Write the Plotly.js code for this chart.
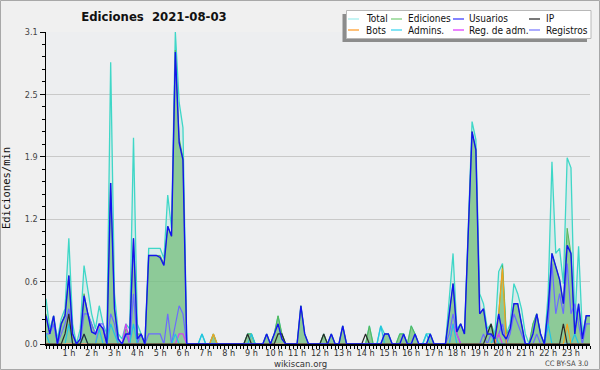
<!DOCTYPE html>
<html><head><meta charset="utf-8">
<script src="https://cdn.plot.ly/plotly-3.0.1.min.js"></script>
<style>html,body{margin:0;padding:0;background:#f0f0f0}#chart{width:600px;height:370px}</style>
</head><body><div id="chart"></div>
<script>
// values every 10 minutes (6 per hour, 144 points), edits per minute
const total = [
 .45,.15,.28,.05,.25,.35,
 1.05,.2,0,.15,.78,.55,
 .3,.15,.38,.2,.1,2.8,
 .5,.1,.05,.2,.15,2.05,
 .2,.1,0,.95,.95,.95,
 .95,.85,1.48,1.15,3.1,2.4,
 2.15,0,0,0,0,.1,
 0,0,.1,0,0,0,
 0,0,0,0,0,.1,
 .1,0,0,0,.1,0,
 .1,.28,.1,0,0,0,
 0,.38,.1,0,0,0,
 0,.1,0,.1,0,0,
 .18,0,0,0,0,0,
 0,.18,0,0,.18,.1,
 .1,0,0,.1,.1,0,
 .18,.1,0,0,.1,.1,
 0,0,0,0,.45,.9,
 .15,.2,.1,1.15,2.21,2.03,
 .5,.4,.15,.2,.1,.72,
 .8,.1,.2,.6,.5,.35,
 .1,0,.2,.3,.1,0,
 .5,1.81,.9,.95,.6,1.85,
 1.75,.2,.97,.1,.28,.28];
const ediciones = [
 .3,.1,.28,0,.2,.3,
 .68,.1,0,.05,.5,.3,
 .2,.1,.2,.15,.05,1.6,
 .35,.05,0,.15,.1,1.05,
 .1,.1,0,.88,.88,.88,
 .88,.8,1.17,1.07,2.92,2.05,
 1.85,0,0,0,0,0,
 0,0,.1,0,0,0,
 0,0,0,0,0,.1,
 .1,0,0,0,.1,0,
 .1,.28,.1,0,0,0,
 0,.38,.1,0,0,0,
 0,.1,0,.1,0,0,
 .18,0,0,0,0,0,
 0,.18,0,0,0,.1,
 .1,0,0,.1,.1,0,
 .18,.1,0,0,0,.1,
 0,0,0,0,.3,.6,
 .12,.2,.1,1.1,2.11,1.93,
 .3,.35,.1,.2,.05,.3,
 .78,.1,.15,.4,.4,.2,
 0,0,.2,.3,.1,0,
 .35,.9,.77,.64,.4,1.15,
 .9,.1,.4,.05,.28,.28];
const usuarios = [
 .28,.1,.28,0,.2,.28,
 .68,.1,0,.05,.48,.3,
 .12,.1,.2,.15,0,1.6,
 .35,.05,0,.1,.1,1.05,
 .05,.1,0,.88,.88,.88,
 .86,.78,1.17,1.07,2.9,2.0,
 1.83,0,0,0,0,0,
 0,0,0,0,0,0,
 0,0,0,0,0,0,
 0,0,0,0,.1,0,
 .1,.2,.05,0,0,0,
 0,.38,.1,0,0,0,
 0,0,0,.1,0,0,
 .18,0,0,0,0,0,
 0,0,0,0,0,.1,
 .1,0,0,0,.1,0,
 0,.1,0,0,0,.1,
 0,0,0,0,.3,.6,
 .12,.2,.1,1.1,2.11,1.93,
 .3,.35,.1,.1,.05,.3,
 .1,.05,.15,.4,.4,.2,
 0,0,.1,.3,.1,0,
 .35,.9,.77,.64,.4,.98,
 .9,.1,.4,.05,.28,.28];
const ip = [
 0,0,0,0,0,.1,
 .3,0,0,0,.1,0,
 0,0,0,0,0,0,
 0,0,0,0,0,0,
 0,0,0,0,0,0,
 0,0,0,0,0,0,
 0,0,0,0,0,0,
 0,0,0,0,0,0,
 0,0,0,0,0,.1,
 0,0,0,0,0,0,
 0,.1,.1,0,0,0,
 0,0,0,0,0,0,
 0,.1,0,0,0,0,
 0,0,0,0,0,0,
 .1,0,0,0,0,0,
 0,0,0,0,0,0,
 0,0,0,0,0,0,
 0,0,0,0,0,0,
 0,0,0,0,0,0,
 0,0,.1,.2,0,0,
 0,0,0,0,0,0,
 0,0,0,0,0,0,
 0,0,0,0,.2,0,
 0,0,0,0,0,0];
const bots = [
 0,0,0,0,0,0,
 0,0,0,0,0,0,
 0,0,0,0,0,0,
 0,0,0,0,0,0,
 0,0,0,0,0,0,
 0,0,0,0,0,0,
 0,0,0,0,0,0,
 0,0,.1,0,0,0,
 0,0,0,0,0,0,
 0,0,0,0,0,0,
 0,0,0,0,0,0,
 0,0,0,0,0,0,
 0,0,0,0,0,0,
 0,0,0,0,0,0,
 0,0,0,0,0,0,
 0,0,0,0,0,0,
 0,0,0,0,0,0,
 0,0,0,0,0,0,
 0,0,0,0,0,0,
 0,0,0,0,0,.3,
 .75,0,0,0,0,0,
 0,0,0,0,0,0,
 0,0,0,0,0,.2,
 0,0,0,0,0,0];
const admins = [
 .1,0,0,0,0,0,
 .2,0,0,0,.1,0,
 0,0,.15,0,0,.2,
 .1,0,0,0,0,.2,
 0,0,0,0,0,0,
 0,0,0,0,.1,0,
 0,0,0,0,0,.1,
 0,0,0,0,0,0,
 0,0,0,0,0,0,
 .1,0,0,0,0,0,
 0,0,0,0,0,0,
 0,0,0,0,0,0,
 0,0,0,0,0,0,
 0,0,0,0,0,0,
 0,0,0,0,.18,0,
 0,0,0,0,0,0,
 0,0,0,0,.1,0,
 0,0,0,0,0,.2,
 0,0,0,0,0,0,
 0,0,0,0,.1,0,
 0,0,0,0,0,0,
 0,0,0,0,0,0,
 .2,0,0,0,0,0,
 0,.1,0,0,0,0];
const regAdm = [
 0,0,0,0,0,0,
 0,0,0,0,0,0,
 0,0,.2,.15,0,0,
 0,0,0,.2,0,0,
 0,0,0,0,0,0,
 0,0,0,0,0,.1,
 .1,0,0,0,0,0,
 0,0,0,0,0,0,
 0,0,0,0,0,0,
 0,0,0,0,0,0,
 0,0,0,0,0,0,
 0,0,0,0,0,0,
 0,0,0,0,0,0,
 0,0,0,0,0,0,
 0,0,0,0,0,0,
 0,0,0,0,0,0,
 0,0,0,0,0,0,
 0,0,0,0,0,.2,
 .1,0,0,0,0,0,
 0,0,0,0,0,.1,
 0,0,0,0,0,0,
 0,0,0,0,0,0,
 0,0,0,0,0,0,
 0,0,0,0,0,0];
const registros = [
 .1,.1,.2,0,.1,.2,
 .35,.1,0,0,.3,.3,
 .2,.1,.2,.2,0,.3,
 .2,0,0,.1,0,.5,
 0,.1,0,.1,.1,.1,
 .1,0,.3,0,.2,.38,
 .3,0,0,0,0,0,
 0,0,0,0,0,0,
 0,0,0,0,0,0,
 0,0,0,0,0,0,
 0,0,0,0,0,0,
 0,0,0,0,0,0,
 0,0,0,0,0,0,
 0,0,0,0,0,0,
 0,0,0,0,0,0,
 0,0,0,0,0,0,
 0,0,0,0,0,0,
 0,0,0,0,.1,.3,
 .1,0,0,0,0,0,
 0,.1,0,.1,0,.1,
 .2,0,.1,.3,.2,.1,
 0,0,0,.1,0,0,
 .2,.8,.3,.5,.3,.8,
 .3,.4,.2,0,.2,.2];

const hourTicks = [1,2,3,4,5,6,7,8,9,10,11,12,13,14,15,16,17,18,19,20,21,22,23];
const hourLabels = hourTicks.map(h => h + ' h');
const yTickVals = [0, 0.62, 1.24, 1.86, 2.48, 3.1];
const yTickText = ['0.0','0.6','1.2','1.9','2.5','3.1'];

const names = ['Total','Ediciones','Usuarios','IP','Bots','Admins.','Reg. de adm.','Registros'];
const colors = ['#3fd7c7','#58b858','#1414ee','#2a2a2a','#f5a21e','#22c4e4','#d53ff0','#6b6bff'];
const legendColors = ['#a6eeee','#7fd07f','#4040ff','#303030','#ffa030','#40d6f0','#e040ff','#7f7fff'];

const x = total.map((_, i) => i / 6);
const FONT = 'DejaVu Sans Condensed, DejaVu Sans';

const traces = [
  {x, y: total, name: names[0], type: 'scatter', mode: 'lines', fill: 'tozeroy',
   fillcolor: 'rgba(140,225,215,0.22)', line: {color: colors[0], width: 1.3}},
  {x, y: ediciones, name: names[1], type: 'scatter', mode: 'lines', fill: 'tozeroy',
   fillcolor: 'rgba(112,190,120,0.72)', line: {color: colors[1], width: 1}},
  {x, y: registros, name: names[7], type: 'scatter', mode: 'lines', line: {color: colors[7], width: 1.2}},
  {x, y: regAdm, name: names[6], type: 'scatter', mode: 'lines', line: {color: colors[6], width: 1.2}},
  {x, y: admins, name: names[5], type: 'scatter', mode: 'lines', line: {color: colors[5], width: 1.2}},
  {x, y: bots, name: names[4], type: 'scatter', mode: 'lines', line: {color: colors[4], width: 1.2}},
  {x, y: ip, name: names[3], type: 'scatter', mode: 'lines', line: {color: colors[3], width: 1.2}},
  {x, y: usuarios, name: names[2], type: 'scatter', mode: 'lines', line: {color: colors[2], width: 1.4}}
];

const L = 46, T = 32, W = 544, H = 312;
const px = X => (X - L) / W;
const py = Y => (T + H - Y) / H;

const shapes = [
  {type: 'rect', xref: 'paper', yref: 'paper', x0: px(0.5), x1: px(599.5), y0: py(369.5), y1: py(0.5),
   line: {color: '#a8a8a8', width: 1}, layer: 'below'},
  {type: 'rect', xref: 'paper', yref: 'paper', x0: px(342.5), x1: px(587), y0: py(42), y1: py(14),
   line: {width: 0}, fillcolor: '#8c8c8c', layer: 'above'},
  {type: 'rect', xref: 'paper', yref: 'paper', x0: px(346.5), x1: px(591), y0: py(38.5), y1: py(10.5),
   line: {color: '#b8b8b8', width: 1}, fillcolor: '#ffffff', layer: 'above'}
];
const annotations = [
  {text: 'wikiscan.org', xref: 'paper', yref: 'paper', x: px(300), y: py(363), xanchor: 'center', yanchor: 'middle',
   showarrow: false, font: {family: FONT, size: 9.5, color: '#333'}},
  {text: 'CC BY-SA 3.0', xref: 'paper', yref: 'paper', x: px(590), y: py(363), xanchor: 'right', yanchor: 'middle',
   showarrow: false, font: {family: FONT, size: 7.5, color: '#444'}}
];
const colLine = [348, 391, 453, 529];
const colText = [364, 406, 467, 544];
const rowY = [19, 30];
names.forEach((nm, j) => {
  const c = j % 4, r = Math.floor(j / 4);
  shapes.push({type: 'line', xref: 'paper', yref: 'paper', x0: px(colLine[c]), x1: px(colLine[c] + 11),
    y0: py(rowY[r]), y1: py(rowY[r]), line: {color: legendColors[j], width: 1.3}, layer: 'above'});
  annotations.push({text: nm, xref: 'paper', yref: 'paper', x: px(colText[c]), y: py(rowY[r]),
    xanchor: 'left', yanchor: 'middle', showarrow: false, font: {family: FONT, size: 10, color: '#111'}});
});

const layout = {
  width: 600, height: 370,
  paper_bgcolor: '#f0f0f0', plot_bgcolor: '#edeef0',
  margin: {l: L, r: 600 - L - W, t: T, b: 370 - T - H, pad: 0},
  showlegend: false,
  title: {text: '<b>Ediciones  2021-08-03</b>', font: {family: FONT, size: 13, color: '#111'},
          x: 154 / 600, xanchor: 'center', xref: 'container', y: 1 - 16 / 370, yanchor: 'middle', yref: 'container'},
  xaxis: {range: [0, 143 / 6], tickvals: hourTicks, ticktext: hourLabels, tickangle: 0, ticks: 'outside', ticklen: 3,
          ticklabelstandoff: -3,
          tickcolor: '#000', tickwidth: 1, showgrid: false, zeroline: false, showline: true, linecolor: '#000', linewidth: 1.5,
          tickfont: {family: FONT, size: 9, color: '#333'},
          minor: {dtick: 1 / 6, tick0: 0, ticks: 'outside', ticklen: 3, tickcolor: '#000', showgrid: false},
          fixedrange: true},
  yaxis: {range: [0, 3.1], tickvals: yTickVals, ticktext: yTickText, ticks: 'outside', ticklen: 5,
          tickcolor: '#000', showgrid: true, gridcolor: '#c9c9c9', gridwidth: 1, zeroline: false,
          showline: true, linecolor: '#000', linewidth: 1.5,
          tickfont: {family: FONT, size: 9, color: '#444'},
          title: {text: 'Ediciones/min', font: {family: 'DejaVu Sans Mono', size: 10.5, color: '#111'}, standoff: 12},
          minor: {tickvals: [0.124,0.248,0.372,0.496,0.744,0.868,0.992,1.116,1.364,1.488,1.612,1.736,1.984,2.108,2.232,2.356,2.604,2.728,2.852,2.976],
                  ticks: 'outside', ticklen: 3, tickcolor: '#000', showgrid: false},
          fixedrange: true},
  shapes, annotations
};
Plotly.newPlot('chart', traces, layout, {displayModeBar: false, staticPlot: true});
</script></body></html>
